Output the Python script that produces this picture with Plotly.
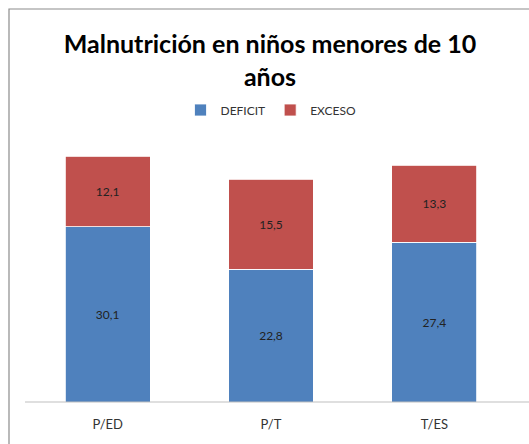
import plotly.graph_objects as go

categories = ["P/ED", "P/T", "T/ES"]
deficit = [30.1, 22.8, 27.4]
exceso = [12.1, 15.5, 13.3]

def fmt(v):
    return f"{v:.1f}".replace(".", ",")

font = "Lato, 'Open Sans', sans-serif"

W, H = 529, 444
L, T = 26, 140
R = W - 516
B = H - 402
pw, ph = W - L - R, H - T - B

fig = go.Figure()
fig.add_trace(go.Bar(name="DEFICIT", x=categories, y=deficit, marker=dict(color="#4F81BD", line=dict(color="white", width=0.8)),
                     text=[fmt(v) for v in deficit], textposition="inside", insidetextanchor="middle",
                     textfont=dict(color="#222", size=12, family=font)))
fig.add_trace(go.Bar(name="EXCESO", x=categories, y=exceso, marker=dict(color="#C0504D", line=dict(color="white", width=0.8)),
                     text=[fmt(v) for v in exceso], textposition="inside", insidetextanchor="middle",
                     textfont=dict(color="#222", size=12, family=font)))

fig.update_layout(
    width=W, height=H, barmode="stack", bargap=0.48,
    margin=dict(l=L, r=R, t=T, b=B, autoexpand=False),
    paper_bgcolor="white", plot_bgcolor="white",
    font=dict(family=font, color="#333"),
    title=dict(text="<b>Malnutrición en niños menores de 10<br>años</b>", x=270 / W, xanchor="center",
               y=1 - 53 / H, yanchor="middle", yref="container", font=dict(size=25, color="black", family=font)),
    legend=dict(orientation="h", x=0.5, xanchor="center", y=1 + (140 - 110) / ph, yanchor="middle",
                font=dict(size=12, color="#333"), traceorder="normal", itemwidth=30),
    xaxis=dict(showline=False, ticks="outside", ticklen=10, tickcolor="rgba(0,0,0,0)",
               tickfont=dict(size=13, color="#333")),
    yaxis=dict(range=[0, 45], visible=False, showgrid=False),
    uniformtext=dict(mode="show", minsize=12),
    shapes=[
        dict(type="rect", xref="paper", yref="paper", x0=(9 - 26) / pw, x1=3, y0=-3, y1=1 + (140 - 9) / ph,
             line=dict(color="#8c8c8c", width=1.2), fillcolor="rgba(0,0,0,0)", layer="below"),
        dict(type="line", xref="paper", yref="paper", x0=-0.002, x1=1.5, y0=0, y1=0,
             line=dict(color="#bfbfbf", width=1)),
    ],
)
fig.write_html("out.html", config={"displayModeBar": False},
               post_script="document.body.style.margin='0';document.body.style.overflow='hidden';")
